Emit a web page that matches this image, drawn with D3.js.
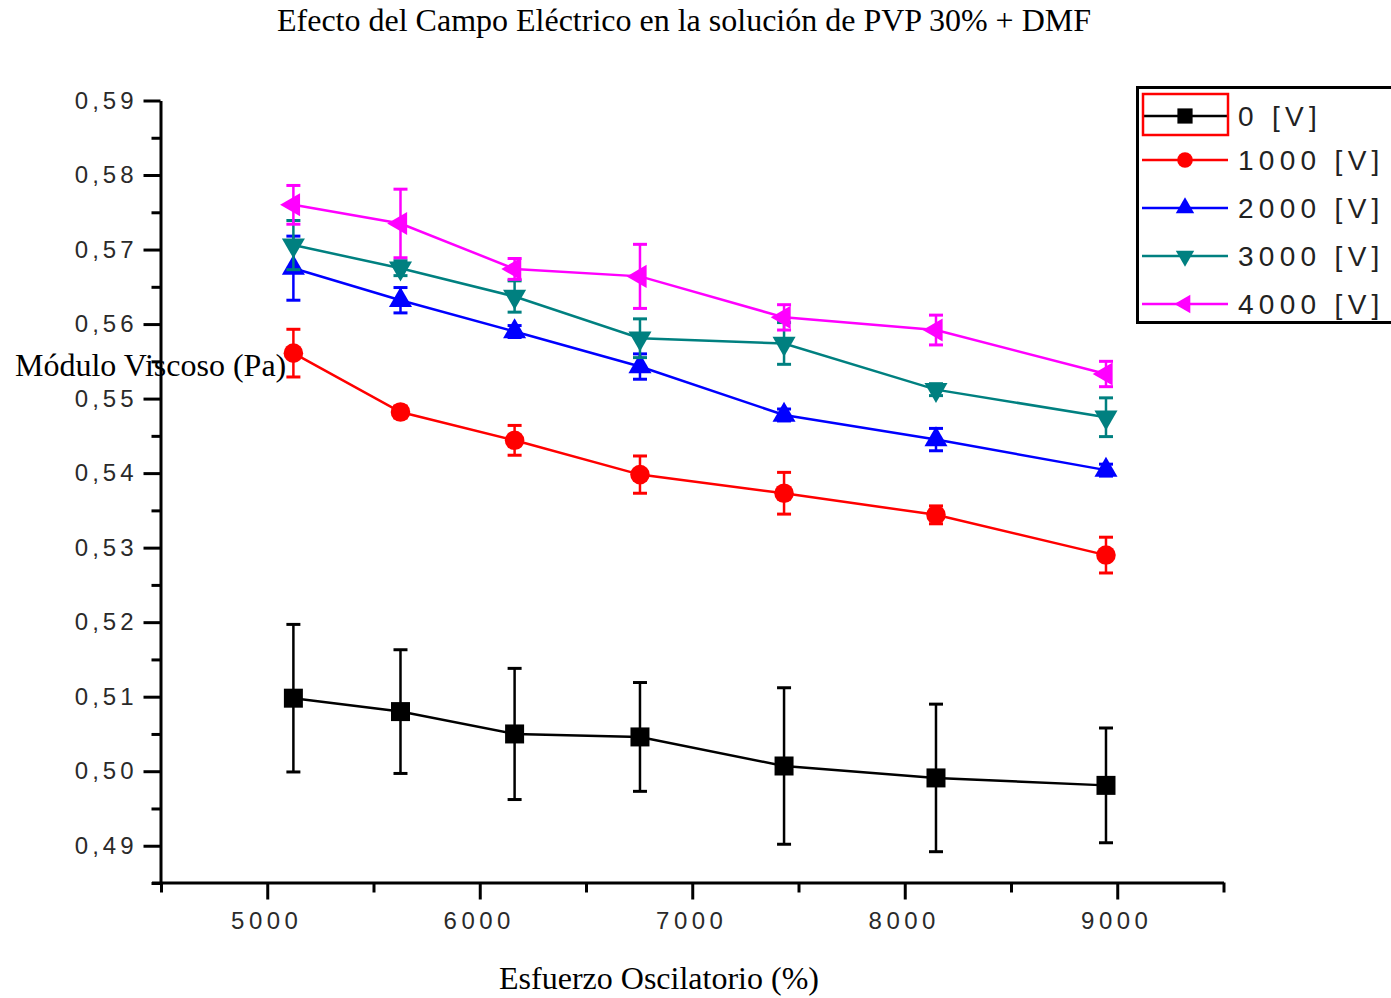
<!DOCTYPE html>
<html>
<head>
<meta charset="utf-8">
<script src="https://cdn.jsdelivr.net/npm/d3@7"></script>
<style>
  body { margin: 0; background: #fff; }
  svg { display: block; }
</style>
</head>
<body>
<svg id="chart" width="1391" height="998"></svg>
<script>
// Oscillatory stress (%) at which each measurement was taken
const stress = [5123, 5627, 6164, 6754, 7432, 8147, 8947];

// Viscous modulus (Pa) and its error for each applied voltage
const names = ["0 [V]", "1000 [V]", "2000 [V]", "3000 [V]", "4000 [V]"];
const v0    = [0.5098, 0.5080, 0.5050, 0.5046, 0.5007, 0.4991, 0.4981];
const e0    = [0.0099, 0.0083, 0.0088, 0.0073, 0.0105, 0.0099, 0.0077];
const v1000 = [0.5561, 0.5482, 0.5444, 0.5398, 0.5373, 0.5344, 0.5290];
const e1000 = [0.0032, 0.0008, 0.0020, 0.0025, 0.0028, 0.0012, 0.0024];
const v2000 = [0.5675, 0.5632, 0.5590, 0.5543, 0.5478, 0.5445, 0.5404];
const e2000 = [0.0043, 0.0017, 0.0008, 0.0017, 0.0008, 0.0015, 0.0008];
const v3000 = [0.5706, 0.5675, 0.5637, 0.5581, 0.5574, 0.5512, 0.5475];
const e3000 = [0.0033, 0.0010, 0.0021, 0.0026, 0.0028, 0.0008, 0.0026];
const v4000 = [0.5760, 0.5735, 0.5674, 0.5664, 0.5609, 0.5592, 0.5533];
const e4000 = [0.0026, 0.0046, 0.0014, 0.0043, 0.0017, 0.0020, 0.0017];

const xTicks = [5000, 6000, 7000, 8000, 9000];
const xMinor = [4500, 5500, 6500, 7500, 8500, 9500];
const yTicks = [0.49, 0.50, 0.51, 0.52, 0.53, 0.54, 0.55, 0.56, 0.57, 0.58, 0.59];
const yMinor = [0.485, 0.495, 0.505, 0.515, 0.525, 0.535, 0.545, 0.555, 0.565, 0.575, 0.585];

const colors  = ["#000000", "#ff0000", "#0000ff", "#008080", "#ff00ff"];
const symbols = [
  { type: d3.symbolSquare,   size: 361, rot: 0 },
  { type: d3.symbolCircle,   size: 300, rot: 0 },
  { type: d3.symbolTriangle, size: 230, rot: 0 },
  { type: d3.symbolTriangle, size: 230, rot: 180 },
  { type: d3.symbolTriangle, size: 230, rot: -90 }
];

const series = [v0, v1000, v2000, v3000, v4000].map((vals, i) => ({
  name: names[i],
  color: colors[i],
  sym: symbols[i],
  points: vals.map((v, j) => ({ x: stress[j], y: v, err: [e0, e1000, e2000, e3000, e4000][i][j] }))
}));

const svg = d3.select("#chart");

const x = d3.scaleLinear().domain([4500, 9500]).range([161, 1223.5]);
const y = d3.scaleLinear().domain([0.485, 0.59]).range([883, 100.5]);

const tickFont = "'Liberation Sans', Arial, sans-serif";
const serif = "'Liberation Serif', 'Times New Roman', serif";

// ---- axes ----
const yAxis = d3.axisLeft(y).tickValues(yTicks).tickSize(17).tickSizeOuter(0)
  .tickPadding(10).tickFormat(d => d3.format(".2f")(d).replace(".", ","));
const gy = svg.append("g").attr("transform", "translate(160.5,0)").call(yAxis);
gy.select(".domain").attr("stroke", "#000").attr("stroke-width", 3);
gy.selectAll(".tick line").attr("stroke", "#000").attr("stroke-width", 3);
gy.selectAll(".tick text")
  .attr("font-family", tickFont).attr("font-size", 24).attr("fill", "#2a2a2a")
  .attr("letter-spacing", "4px").attr("dx", "4");

const gyMinor = svg.append("g").attr("transform", "translate(160.5,0)")
  .call(d3.axisLeft(y).tickValues(yMinor).tickSize(9).tickSizeOuter(0).tickFormat(""));
gyMinor.select(".domain").remove();
gyMinor.selectAll(".tick line").attr("stroke", "#000").attr("stroke-width", 3);

const xAxis = d3.axisBottom(x).tickValues(xTicks).tickSize(17).tickSizeOuter(0)
  .tickPadding(12).tickFormat(d3.format("d"));
const gx = svg.append("g").attr("transform", "translate(0,882.5)").call(xAxis);
gx.select(".domain").attr("stroke", "#000").attr("stroke-width", 3);
gx.selectAll(".tick line").attr("stroke", "#000").attr("stroke-width", 3);
gx.selectAll(".tick text")
  .attr("font-family", tickFont).attr("font-size", 24).attr("fill", "#2a2a2a")
  .attr("letter-spacing", "4.5px").attr("dx", "-1");

const gxMinor = svg.append("g").attr("transform", "translate(0,882.5)")
  .call(d3.axisBottom(x).tickValues(xMinor).tickSize(10).tickSizeOuter(0).tickFormat(""));
gxMinor.select(".domain").remove();
gxMinor.selectAll(".tick line").attr("stroke", "#000").attr("stroke-width", 3);

// short stub at the lower left where both axes meet
svg.append("line").attr("x1", 152).attr("x2", 161).attr("y1", y(0.485)).attr("y2", y(0.485))
  .attr("stroke", "#000").attr("stroke-width", 3);

// ---- data ----
const line = d3.line().x(d => x(d.x)).y(d => y(d.y));
const symPath = s => d3.symbol().type(s.type).size(s.size)();

series.forEach(s => {
  const g = svg.append("g");
  g.append("path").datum(s.points).attr("d", line)
    .attr("fill", "none").attr("stroke", s.color).attr("stroke-width", 2.5);

  const eb = g.selectAll(".eb").data(s.points).join("g");
  eb.append("line")
    .attr("x1", d => x(d.x)).attr("x2", d => x(d.x))
    .attr("y1", d => y(d.y + d.err)).attr("y2", d => y(d.y - d.err))
    .attr("stroke", s.color).attr("stroke-width", 2.5);
  [1, -1].forEach(sg => {
    eb.append("line")
      .attr("x1", d => x(d.x) - 7).attr("x2", d => x(d.x) + 7)
      .attr("y1", d => y(d.y + sg * d.err)).attr("y2", d => y(d.y + sg * d.err))
      .attr("stroke", s.color).attr("stroke-width", 3);
  });

  g.selectAll(".m").data(s.points).join("path")
    .attr("d", symPath(s.sym))
    .attr("transform", d => `translate(${x(d.x)},${y(d.y)}) rotate(${s.sym.rot})`)
    .attr("fill", s.color);
});

// ---- legend ----
const legend = svg.append("g");
legend.append("rect").attr("x", 1137.5).attr("y", 87.5).attr("width", 280).attr("height", 235)
  .attr("fill", "#fff").attr("stroke", "#000").attr("stroke-width", 3);
const rowY = [116, 160, 208, 256, 304];
series.forEach((s, i) => {
  const r = legend.append("g").attr("transform", `translate(0,${rowY[i]})`);
  r.append("line").attr("x1", 1142).attr("x2", 1228).attr("y1", 0).attr("y2", 0)
    .attr("stroke", s.color).attr("stroke-width", 2.5);
  r.append("path").attr("d", symPath(s.sym))
    .attr("transform", `translate(1185,0) rotate(${s.sym.rot}) scale(0.8)`)
    .attr("fill", s.color);
  r.append("text").attr("x", 1238).attr("y", 0).attr("dy", "0.36em")
    .attr("font-family", tickFont).attr("font-size", 28).attr("fill", "#222")
    .attr("letter-spacing", "5.3px").text(s.name);
});
legend.append("rect").attr("x", 1143).attr("y", 94).attr("width", 85).attr("height", 41)
  .attr("fill", "none").attr("stroke", "#ff0000").attr("stroke-width", 2.5);

// ---- titles ----
svg.append("text").attr("x", 684).attr("y", 31).attr("text-anchor", "middle")
  .attr("font-family", serif).attr("font-size", 32).attr("fill", "#000")
  .text("Efecto del Campo Eléctrico en la solución de PVP 30% + DMF");
svg.append("text").attr("x", 15).attr("y", 376)
  .attr("font-family", serif).attr("font-size", 32).attr("fill", "#000")
  .text("Módulo Viscoso (Pa)");
svg.append("text").attr("x", 659).attr("y", 989).attr("text-anchor", "middle")
  .attr("font-family", serif).attr("font-size", 32).attr("fill", "#000")
  .text("Esfuerzo Oscilatorio (%)");
</script>
</body>
</html>
